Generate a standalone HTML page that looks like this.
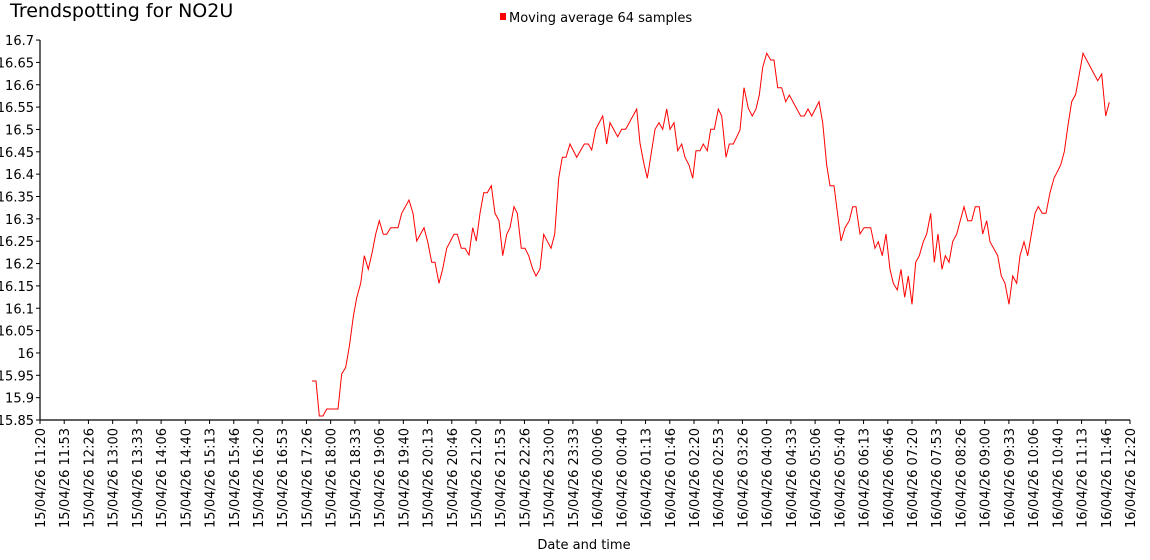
<!DOCTYPE html>
<html><head><meta charset="utf-8"><style>
html,body{margin:0;padding:0;background:#fff;}
svg{display:block;font-family:"DejaVu Sans","Liberation Sans",sans-serif;}
</style></head><body>
<svg width="1150" height="560" viewBox="0 0 1150 560" xmlns="http://www.w3.org/2000/svg">
<text x="10" y="17" font-size="19" fill="#000">Trendspotting for NO2U</text>
<rect x="500" y="13" width="6" height="7" fill="#f00"/>
<text x="509" y="22" font-size="13" fill="#000">Moving average 64 samples</text>
<g stroke="#000" stroke-width="1.2" fill="none">
<line x1="40" y1="40" x2="40" y2="420"/>
<line x1="40" y1="420" x2="1130" y2="420"/>
</g>
<g id="yt" font-size="13" text-anchor="end" fill="#000"></g>
<g id="xt" font-size="13" fill="#000"></g>
<text x="584" y="549" font-size="13" text-anchor="middle">Date and time</text>
<polyline fill="none" stroke="#f00" stroke-width="1" points="312,381 316,381 319.3,416 323,416 326.7,409 338,409 341.7,374 345.7,367.3 349.3,346.7 353.3,316.7 356.7,297.7 360.7,283.3 364.3,255.7 368.3,269.3 372,253.3 375.7,234 379.3,220.7 383.3,234.3 386.7,234.3 390.7,227.7 398,227.7 401.7,213.3 409,200 413,213.3 416.7,241 424,227.7 427.7,241.7 431.7,262.3 435,262.3 439,283.3 442.7,269 446.7,248.3 454,234.3 457.3,234.3 461.3,248.3 465,248.3 469,255 472.7,227.7 476.3,241 480,213.3 483.7,192.7 487.3,192.7 491.3,185.7 495,213.3 499,220.7 502.7,255.7 506.7,234.3 510,227.7 514,206.7 517.3,213.3 521.3,248.3 525,248.3 528.7,255.7 532.7,269 536,276 540,269 543.7,234.3 551,248.3 554.7,234.3 558.7,178.3 562.3,157.3 566,157.3 570,144 576.7,157.3 584.3,144 588.3,144 591.7,150 595.7,129.3 602.7,116 606.7,144 610,122.7 617.7,136.7 621.7,129.3 625.7,129.3 636.7,109 640,143.3 644,164 647.3,178.3 655,129.3 659,122.7 662.7,129.3 666.7,109 670,129.3 674,122.7 677.7,150.7 681.7,144 685,157.3 689,165 692.7,178.3 696,150.7 700,150.7 703.3,144 707.3,150.7 710.7,129.3 714.3,129.3 718.3,109 721.7,116 726,157.3 729.3,144 733.3,144 740,130 744,87.7 748.3,108.3 752.3,116 756,109 759.3,95 762.7,67.3 766.7,53.3 770.7,60 774,60 777.7,87.7 781.7,87.7 785.7,101.7 789.3,95 800.7,116 804.3,116 808,109 811.7,116 819,101.7 822.7,122.7 826.7,165 830,185.7 834,185.7 840,233 841,241 845,227.7 849.3,220.7 852.7,206.7 856,206.7 860,234 864,227.7 870.7,227.7 875,248.3 878.3,241.7 882.3,255.7 886,234 890,269.3 893.3,283.3 897.3,290 901,269.3 904.7,297.3 908.3,276 912,304.3 915.7,262.3 919.3,255.7 923.3,241.7 926.7,234 930.7,213.3 934.3,262.3 938,234 942,269.3 945.3,255.7 949,262.3 952.7,241.7 956.7,234 964,206.7 967.7,220.7 971.7,220.7 975.3,206.7 979.3,206.7 982.7,234 986.7,220.7 990,241.7 997.7,255.7 1001.3,276 1005,283.3 1009,304.3 1012.7,276 1016.7,283.3 1020,255.7 1024,241.7 1027.7,255.7 1035,213.3 1038.3,206.7 1042.3,213.3 1046,213.3 1050,192.7 1054,178.3 1060.7,165 1064.3,151.7 1068.3,123.3 1071.7,101.7 1075.7,94.3 1083,53.3 1097.7,80.7 1101.7,74 1105.7,116 1109.3,102.3"/>
</svg>
<script>
var ns="http://www.w3.org/2000/svg",svg=document.querySelector("svg");
var yt=document.getElementById("yt"),xt=document.getElementById("xt");
var yl=["15.85","15.9","15.95","16","16.05","16.1","16.15","16.2","16.25","16.3","16.35","16.4","16.45","16.5","16.55","16.6","16.65","16.7"];
for(var i=0;i<yl.length;i++){var y=420-i*22.35;
var l=document.createElementNS(ns,"line");l.setAttribute("x1",36);l.setAttribute("x2",40);l.setAttribute("y1",y);l.setAttribute("y2",y);l.setAttribute("stroke","#000");svg.appendChild(l);
var t=document.createElementNS(ns,"text");t.setAttribute("x",34);t.setAttribute("y",y+5);t.textContent=yl[i];yt.appendChild(t);}
var xl=["15/04/26 11:20","15/04/26 11:53","15/04/26 12:26","15/04/26 13:00","15/04/26 13:33","15/04/26 14:06","15/04/26 14:40","15/04/26 15:13","15/04/26 15:46","15/04/26 16:20","15/04/26 16:53","15/04/26 17:26","15/04/26 18:00","15/04/26 18:33","15/04/26 19:06","15/04/26 19:40","15/04/26 20:13","15/04/26 20:46","15/04/26 21:20","15/04/26 21:53","15/04/26 22:26","15/04/26 23:00","15/04/26 23:33","16/04/26 00:06","16/04/26 00:40","16/04/26 01:13","16/04/26 01:46","16/04/26 02:20","16/04/26 02:53","16/04/26 03:26","16/04/26 04:00","16/04/26 04:33","16/04/26 05:06","16/04/26 05:40","16/04/26 06:13","16/04/26 06:46","16/04/26 07:20","16/04/26 07:53","16/04/26 08:26","16/04/26 09:00","16/04/26 09:33","16/04/26 10:06","16/04/26 10:40","16/04/26 11:13","16/04/26 11:46","16/04/26 12:20"];
for(var i=0;i<xl.length;i++){var x=40+i*1090/45;
var l=document.createElementNS(ns,"line");l.setAttribute("x1",x);l.setAttribute("x2",x);l.setAttribute("y1",420);l.setAttribute("y2",424);l.setAttribute("stroke","#000");svg.appendChild(l);
var t=document.createElementNS(ns,"text");t.setAttribute("text-anchor","end");t.setAttribute("transform","translate("+(x+5)+",428) rotate(-90)");t.textContent=xl[i];xt.appendChild(t);}
</script>
</body></html>
